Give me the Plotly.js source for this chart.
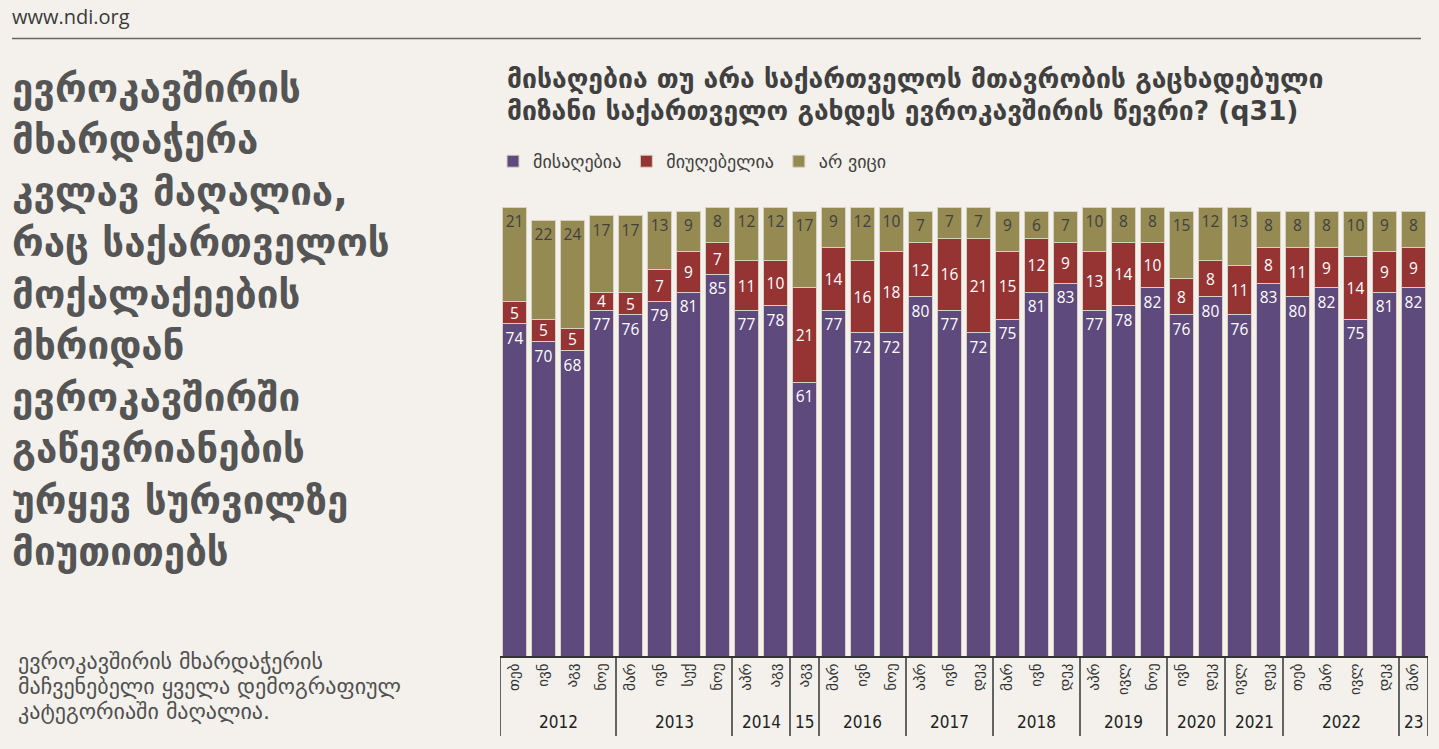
<!DOCTYPE html>
<html>
<head>
<meta charset="utf-8">
<script src="https://cdn.plot.ly/plotly-3.0.1.min.js"></script>
<style>
html,body{margin:0;padding:0;background:#f4f1ec;}
#chart{width:1439px;height:749px;}
</style>
</head>
<body>
<div id="chart"></div>
<script>
// ---- data ----
const years = ['2012','2012','2012','2012','2013','2013','2013','2013','2014','2014','15',
  '2016','2016','2016','2017','2017','2017','2018','2018','2018','2019','2019','2019',
  '2020','2020','2021','2021','2022','2022','2022','2022','23'];
const months = ['თებ','ივნ','აგვ','ნოე','მარ','ივნ','სექ','ნოე','აპრ','აგვ','აგვ',
  'მარ','ივნ','ნოე','აპრ','ივნ','დეკ','მარ','ივნ','დეკ','აპრ','ივლ','ნოე',
  'ივნ','დეკ','ივლ','დეკ','თებ','მარ','ივლ','დეკ','მარ'];
const approve = [74,70,68,77,76,79,81,85,77,78,61,77,72,72,80,77,72,75,81,83,77,78,82,76,80,76,83,80,82,75,81,82];
const disapprove = [5,5,5,4,5,7,9,7,11,10,21,14,16,18,12,16,21,15,12,9,13,14,10,8,8,11,8,11,9,14,9,9];
const dontKnow = [21,22,24,17,17,13,9,8,12,12,17,9,12,10,7,7,7,9,6,7,10,8,8,15,12,13,8,8,8,10,9,8];
const seriesNames = ['მისაღებია','მიუღებელია','არ ვიცი'];

const titleLines = ['მისაღებია თუ არა საქართველოს მთავრობის გაცხადებული',
  'მიზანი საქართველო გახდეს ევროკავშირის წევრი? (q31)'];
const leftLines = ['ევროკავშირის','მხარდაჭერა','კვლავ მაღალია,','რაც საქართველოს',
  'მოქალაქეების','მხრიდან','ევროკავშირში','გაწევრიანების','ურყევ სურვილზე','მიუთითებს'];
const noteLines = ['ევროკავშირის მხარდაჭერის','მაჩვენებელი ყველა დემოგრაფიულ','კატეგორიაში მაღალია.'];
const sourceText = 'www.ndi.org';

// ---- layout helpers ----
const W = 1439, H = 749;
const M = {l:500, r:11, t:207, b:93};
const PW = W - M.l - M.r, PH = H - M.t - M.b;
const px = x => (x - M.l) / PW;
const py = y => (H - M.b - y) / PH;

// unique category keys (one per survey wave), displayed as month labels
const keys = years.map((y, i) => y + ' ' + months[i]);

// contiguous year groups
const groups = [];
years.forEach((y, i) => {
  if (!groups.length || groups[groups.length - 1].year !== y) groups.push({year: y, start: i, end: i});
  else groups[groups.length - 1].end = i;
});

const colors = ['#5f4a7d','#963434','#948a52'];
const textColors = ['#ffffff','#ffffff','#404040'];
const anchors = ['end','middle','end'];
const values = [approve, disapprove, dontKnow];

const traces = values.map((v, i) => ({
  type: 'bar',
  name: seriesNames[i],
  x: keys,
  y: v,
  text: v.map(String),
  textposition: 'inside',
  insidetextanchor: anchors[i],
  constraintext: 'none',
  textangle: 0,
  textfont: {family: 'Open Sans, DejaVu Sans, sans-serif', size: 15.5, color: textColors[i]},
  marker: {color: colors[i], line: {color: '#d6d1c2', width: 1}},
  hoverinfo: 'skip'
}));

const ann = [];
const shapes = [];
const geoFont = 'DejaVu Sans, sans-serif';
ann.push({xref:'paper', yref:'paper', x:px(10), y:py(17), xanchor:'left', yanchor:'middle',
  text: sourceText, showarrow:false, font:{family:'Open Sans, sans-serif', size:20, color:'#3a3a3a'}});
titleLines.forEach((t, i) => ann.push({xref:'paper', yref:'paper', x:px(505), y:py(78 + i*32),
  xanchor:'left', yanchor:'middle', text:'<b>'+t+'</b>', showarrow:false,
  font:{family:geoFont, size:26.5, color:'#404040'}}));
leftLines.forEach((t, i) => ann.push({xref:'paper', yref:'paper', x:px(10), y:py(88 + i*51.5),
  xanchor:'left', yanchor:'middle', text:'<b>'+t+'</b>', showarrow:false,
  font:{family:geoFont, size:38.5, color:'#555555'}}));
noteLines.forEach((t, i) => ann.push({xref:'paper', yref:'paper', x:px(16), y:py(661 + i*25),
  xanchor:'left', yanchor:'middle', text:t, showarrow:false,
  font:{family:geoFont, size:22, color:'#505050'}}));

// year labels and group dividers under the axis
groups.forEach(g => {
  ann.push({xref:'x', yref:'paper', x:(g.start + g.end) / 2, y:py(722), xanchor:'center', yanchor:'middle',
    text:g.year, showarrow:false,
    font:{family:'Liberation Sans Narrow, DejaVu Sans Condensed, sans-serif', size:17, color:'#222222'}});
  shapes.push({type:'line', xref:'x', yref:'paper', x0:g.start - 0.5, x1:g.start - 0.5, y0:0, y1:py(736),
    line:{color:'#333333', width:1.5}});
});
const last = groups[groups.length - 1];
shapes.push({type:'line', xref:'x', yref:'paper', x0:last.end + 0.5, x1:last.end + 0.5, y0:0, y1:py(736),
  line:{color:'#333333', width:1.5}});
shapes.push({type:'line', xref:'paper', yref:'paper', x0:px(12), x1:px(1421), y0:py(38.5), y1:py(38.5),
  line:{color:'#666666', width:1.5}});

const layout = {
  width: W, height: H,
  margin: M,
  paper_bgcolor: '#f4f1ec',
  plot_bgcolor: '#f4f1ec',
  barmode: 'stack',
  bargap: 0.17,
  showlegend: true,
  legend: {orientation:'h', x:px(493), y:py(143), xanchor:'left', yanchor:'top',
    font:{family:geoFont, size:18, color:'#404040'}, bgcolor:'rgba(0,0,0,0)',
    traceorder:'normal', itemclick:false},
  xaxis: {
    type: 'category',
    range: [-0.5, keys.length - 0.5],
    tickmode: 'array', tickvals: keys, ticktext: months,
    showline: true, linecolor: '#333333', linewidth: 1.5,
    ticks: '', tickangle: -90, automargin: false,
    tickfont: {family: geoFont, size: 15, color: '#333333'},
    showgrid: false, zeroline: false, fixedrange: true
  },
  yaxis: {range: [0, 100], visible: false, fixedrange: true},
  annotations: ann,
  shapes: shapes
};

Plotly.newPlot('chart', traces, layout, {displayModeBar:false, staticPlot:true});
</script>
</body>
</html>
